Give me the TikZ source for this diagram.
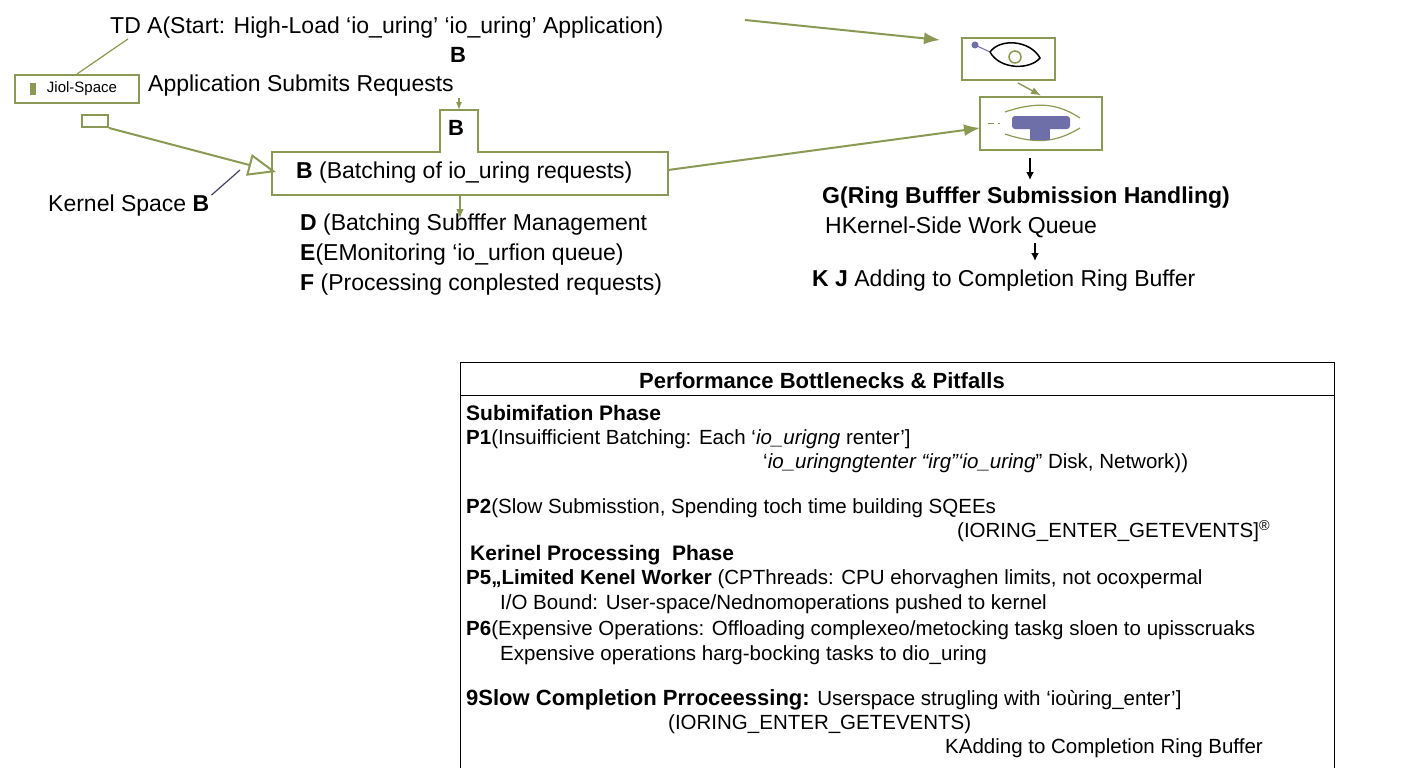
\documentclass[tikz,border=0pt]{standalone}
\usepackage{fontspec}
\setmainfont{Liberation Sans}
\usetikzlibrary{arrows.meta}
\definecolor{gr}{HTML}{8A9A55}
\definecolor{pu}{HTML}{6E6FA8}
\begin{document}
\begin{tikzpicture}[x=1pt,y=-1pt,
  t/.style={anchor=west,inner sep=0pt,font=\fontsize{23}{25}\selectfont},
  s/.style={anchor=west,inner sep=0pt,font=\fontsize{20.5}{23}\selectfont},
  gl/.style={draw=gr,line width=2pt},
  ga/.style={gl,-{Latex[length=16pt,width=12pt]}},
  ka/.style={line width=2pt,-{Latex[length=8pt,width=8pt]}}]
\useasboundingbox (0,0) rectangle (1408,768);
\fill[white] (0,0) rectangle (1408,768);
% top left
\node[t] (td) at (110,28) {TD A(Start: High-Load ‘io\_uring’ ‘io\_uring’ Application)};
\node[t,font=\fontsize{22}{25}\selectfont\bfseries] (b1) at (450,55) {B};
\node[gl,draw,minimum width=124pt,minimum height=28pt,inner sep=0pt,font=\fontsize{15}{17}\selectfont] (js) at (77,89) {\hspace{10pt}Jiol-Space};
\fill[gr] (30,83) rectangle (36,95);
\node[gl,draw,minimum width=26pt,minimum height=12pt,inner sep=0pt] (sr) at (95,121) {};
\node[t] (app) at (148,86) {Application Submits Requests};
\draw[gr,line width=1.2pt] (td.south west)++(18,0) -- (js.north);
% B box
\draw[gl,fill=white] (272,152) -- (440,152) -- (440,110) -- (478,110) -- (478,152) -- (668,152) -- (668,195) -- (272,195) -- cycle;
\coordinate (btab) at (459,110);
\node[t,font=\fontsize{22}{25}\selectfont\bfseries] (b2) at (448,128) {B};
\node[t] (bb) at (296,173) {\textbf{B} (Batching of io\_uring requests)};
\coordinate (bin) at (276,172);
\coordinate (bout) at (668,170);
\draw[-{Latex[length=8pt]},draw=gr,fill=gr,line width=1.2pt] (459,98) -- (btab);
\draw[gl,-{Triangle[open,length=28pt,width=22pt]}] (sr.south east) -- (bin);
\node[t] (ks) at (48,206) {Kernel Space \textbf{B}};
\draw[line width=1.2pt,draw=pu!60!black] (ks.north east)++(2,0) -- (240,170);
\draw[ga] (bout) -- (980,128);
\draw[ga] (745,20) -- (940,40);
% right icons
\node[gl,draw,minimum width=93pt,minimum height=42pt] (i1) at (1008,59) {};
\fill[pu] (975,45) circle (3.5pt);
\draw[pu,line width=1pt] (975,45) -- (990,52);
\draw[line width=1.5pt] (990,52) .. controls (1000,38) and (1030,40) .. (1040,58) .. controls (1030,70) and (1000,70) .. (990,52);
\draw[gr,line width=1.5pt] (1015,57) circle (6pt);
\node[gl,draw,minimum width=122pt,minimum height=53pt] (i2) at (1041,123) {};
\draw[gr,line width=1pt,dash pattern=on 6pt off 4pt] (988,123) -- (1000,123);
\draw[gr,line width=1.2pt] (1005,112) .. controls (1040,100) and (1060,105) .. (1080,118) (1005,134) .. controls (1040,146) and (1060,140) .. (1080,128);
\fill[pu,rounded corners=3pt] (1012,116) rectangle (1070,129);
\fill[pu] (1030,118) rectangle (1050,140);
\draw[-{Latex[length=10pt]},draw=gr,fill=gr,line width=1.4pt] (i1.south) ++(10,2) -- (i2.north);
\coordinate (g0) at (1030,158);
\node[t,font=\fontsize{23}{25}\selectfont\bfseries] (g) at (822,198) {G(Ring Bufffer Submission Handling)};
\draw[ka] (g0) -- (1030,180);
\node[t] (h) at (825,227) {HKernel-Side Work Queue};
\coordinate (h0) at (1035,243);
\draw[ka] (h0) -- (1035,261);
\node[t] (k) at (812,281) {\textbf{K J} Adding to Completion Ring Buffer};
% D E F
\coordinate (bbot) at (460,195);
\node[t] (d) at (300,225) {\textbf{D} (Batching Subfffer Management};
\draw[-{Latex[length=10pt]},draw=gr,fill=gr,line width=2pt] (bbot) -- (460,219);
\node[t] (e) at (300,255) {\textbf{E}(EMonitoring ‘io\_urfion queue)};
\node[t] (f) at (300,285) {\textbf{F} (Processing conplested requests)};
% bottom panel
\draw[line width=1pt] (460,775) -- (460,362) -- (1334,362) -- (1334,775);
\draw[line width=1pt] (460,395) -- (1334,395);
\node[font=\fontsize{22}{25}\selectfont\bfseries,inner sep=0pt] (ph) at (822,381) {Performance Bottlenecks \& Pitfalls};
\node[s,font=\fontsize{21}{23}\selectfont\bfseries] at (466,413) {Subimifation Phase};
\node[s] at (466,439) {\textbf{P1}(Insuifficient Batching: Each `\textit{io\_urigng} renter']};
\node[s] at (763,463) {`\textit{io\_uringngtenter “irg”‘io\_uring}” Disk, Network))};
\node[s] at (466,508) {\textbf{P2}(Slow Submisstion, Spending toch time building SQEEs};
\node[s] at (957,531) {(IORING\_ENTER\_GETEVENTS]\textsuperscript{®}};
\node[s,font=\fontsize{21}{23}\selectfont\bfseries] at (470,555) {Kerinel Processing \ Phase};
\node[s] at (466,579) {\textbf{P5„Limited Kenel Worker} (CPThreads: CPU ehorvaghen limits, not ocoxpermal};
\node[s] at (500,604) {I/O Bound: User-space/Nednomoperations pushed to kernel};
\node[s] at (466,630) {\textbf{P6}(Expensive Operations: Offloading complexeo/metocking taskg sloen to upisscruaks};
\node[s] at (500,655) {Expensive operations harg-bocking tasks to dio\_uring};
\node[s] at (466,700) {\textbf{\fontsize{22}{25}\selectfont 9Slow Completion Prroceessing:} Userspace strugling with `ioùring\_enter']};
\node[s] at (668,724) {(IORING\_ENTER\_GETEVENTS)};
\node[s] at (945,748) {KAdding to Completion Ring Buffer};
\end{tikzpicture}
\end{document}
